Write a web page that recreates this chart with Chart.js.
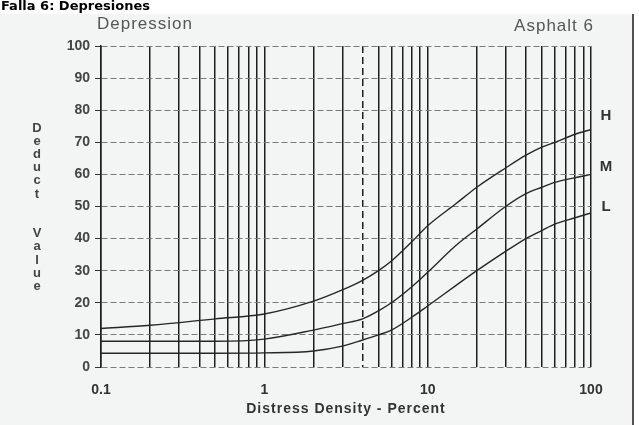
<!DOCTYPE html>
<html>
<head>
<meta charset="utf-8">
<title>Falla 6: Depresiones</title>
<script src="https://cdn.jsdelivr.net/npm/chart.js"></script>
<style>
  html, body { margin: 0; padding: 0; background: #fff; }
  #wrap { width: 639px; height: 425px; }
</style>
</head>
<body>
<div id="wrap"><canvas id="chart" width="639" height="425"></canvas></div>
<script>
  // distress density (%) and deduct values
  const density = [0.1, 0.2, 0.5, 1, 2, 3, 4, 5, 6, 8, 10, 15, 20, 30, 40, 50, 60, 80, 100];
  const highSev = [12, 13, 15, 16.5, 20.5, 24, 27, 30, 33, 39, 44, 51, 56, 62, 66, 68.5, 70, 72.5, 74];
  const medSev  = [8, 8, 8, 8.7, 11.5, 13.5, 15, 17.5, 20, 25, 29.5, 38, 43, 50, 54, 56, 57.5, 59, 60];
  const lowSev  = [4.3, 4.3, 4.3, 4.4, 5, 6.5, 8.4, 10, 11.5, 15.5, 19, 25.5, 30, 36, 40, 42.5, 44.5, 46.5, 48];

  const xGrid = [0.1, 0.2, 0.3, 0.4, 0.5, 0.6, 0.7, 0.8, 0.9,
                 1, 2, 3, 4, 5, 6, 7, 8, 9,
                 10, 20, 30, 40, 50, 60, 70, 80, 90, 100];
  const xLabelled = [0.1, 1, 10, 100];
  const dashedX = [4];
  const xTitle = 'Distress Density - Percent';
  const yTitle = ['D', 'e', 'd', 'u', 'c', 't', '', '', 'V', 'a', 'l', 'u', 'e'];
  const curveNames = ['H', 'M', 'L'];

  const toPts = arr => arr.map((v, i) => ({x: density[i], y: v}));

  const decor = {
    id: 'decor',
    beforeDraw(chart) {
      const c = chart.ctx;
      c.save();
      c.fillStyle = '#f3f4f4';
      c.fillRect(0, 14, 633, 411);
      c.strokeStyle = '#1a1a1a';
      c.lineWidth = 1.5;
      c.beginPath();
      c.moveTo(633, 14);
      c.lineTo(633, 425);
      c.stroke();
      c.restore();
    },
    afterDraw(chart) {
      const c = chart.ctx;
      const area = chart.chartArea;
      c.save();
      c.textBaseline = 'middle';

      c.fillStyle = '#000';
      c.font = 'bold 13px "DejaVu Sans", sans-serif';
      c.textAlign = 'left';
      c.fillText('Falla 6: Depresiones', 1, 7);

      c.fillStyle = '#555';
      c.letterSpacing = '1px';
      c.font = '17px "Liberation Sans", Arial, sans-serif';
      c.fillText('Depression', 97, 24);
      c.textAlign = 'right';
      c.fillText('Asphalt 6', 594, 26);

      // x axis title, spaced like the scan
      c.textAlign = 'center';
      c.fillStyle = '#333';
      c.font = 'bold 14px "Liberation Sans", Arial, sans-serif';
      c.fillText(xTitle, (area.left + area.right) / 2, 409);
      c.letterSpacing = '0px';

      // stacked y axis title
      c.fillStyle = '#444';
      c.font = 'bold 13px "Liberation Sans", Arial, sans-serif';
      yTitle.forEach((ch, i) => c.fillText(ch, 37, 128 + i * 13.2));

      // severity labels
      c.fillStyle = '#333';
      c.font = 'bold 15px "Liberation Sans", Arial, sans-serif';
      const ly = [116, 167, 207];
      curveNames.forEach((n, i) => c.fillText(n, 606, ly[i]));
      c.restore();
    }
  };

  const lineStyle = {
    borderColor: '#262626',
    borderWidth: 1.4,
    pointRadius: 0,
    cubicInterpolationMode: 'monotone',
    fill: false
  };

  new Chart(document.getElementById('chart').getContext('2d'), {
    type: 'line',
    data: {
      datasets: [
        Object.assign({label: curveNames[0], data: toPts(highSev)}, lineStyle),
        Object.assign({label: curveNames[1], data: toPts(medSev)}, lineStyle),
        Object.assign({label: curveNames[2], data: toPts(lowSev)}, lineStyle)
      ]
    },
    options: {
      responsive: false,
      animation: false,
      layout: { padding: { top: 46, right: 48, left: 0, bottom: 0 } },
      plugins: {
        legend: { display: false },
        tooltip: { enabled: false }
      },
      scales: {
        x: {
          type: 'logarithmic',
          min: 0.1,
          max: 100,
          afterBuildTicks: s => { s.ticks = xGrid.map(v => ({value: v})); },
          afterFit: s => { s.height = 58; },
          ticks: {
            autoSkip: false,
            maxRotation: 0,
            padding: 15,
            color: '#333',
            font: { family: '"Liberation Sans", Arial, sans-serif', size: 14, weight: 'bold' },
            callback: v => xLabelled.includes(v) ? String(v) : ''
          },
          grid: {
            drawTicks: false,
            color: '#1e1e1e',
            lineWidth: 1.5
          },
          border: {
            display: false,
            dash: ctx => (ctx.tick && dashedX.includes(ctx.tick.value)) ? [7, 4] : []
          }
        },
        y: {
          min: 0,
          max: 100,
          afterFit: s => { s.width = 101; },
          ticks: {
            stepSize: 10,
            padding: 5,
            color: '#444',
            font: { family: '"Liberation Sans", Arial, sans-serif', size: 14, weight: 'bold' }
          },
          grid: {
            color: '#7a7a7a',
            lineWidth: 1,
            tickLength: 6,
            tickColor: '#333'
          },
          border: {
            display: true,
            color: '#1e1e1e',
            width: 1.5,
            dash: [6, 3]
          }
        }
      }
    },
    plugins: [decor]
  });
</script>
</body>
</html>
